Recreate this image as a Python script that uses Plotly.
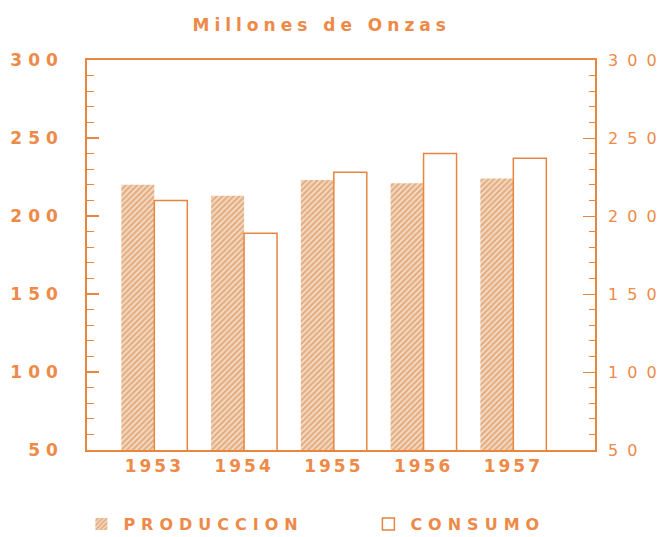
import plotly.graph_objects as go

years = [1953, 1954, 1955, 1956, 1957]
year_labels = ["1953", "1954", "1955", "1956", "1957"]
produccion = [220, 213, 223, 221, 224]
consumo = [210, 189, 228, 240, 237]
y_ticks = [50, 100, 150, 200, 250, 300]
left_tick_text = ["50", "100", "150", "200", "250", "300"]
right_tick_text = ["5 0", "1 0 0", "1 5 0", "2 0 0", "2 5 0", "3 0 0"]

ORANGE = "#E8853E"
TEXT = "#EE8A48"
FONT = "DejaVu Sans"

fig = go.Figure()
fig.add_trace(go.Bar(
    x=years, y=produccion, name="PRODUCCION",
    marker=dict(color="#EFC8A6",
                pattern=dict(shape="/", size=4, solidity=0.6,
                             fgcolor="#D27C38", bgcolor="#F6E0CC"),
                line=dict(width=0)),
))
fig.add_trace(go.Bar(
    x=years, y=consumo, name="CONSUMO",
    marker=dict(color="white", line=dict(color=ORANGE, width=1.5)),
))
# invisible trace for right axis
fig.add_trace(go.Scatter(x=[years[0]], y=[y_ticks[0]], yaxis="y2",
                         mode="markers", marker=dict(opacity=0),
                         showlegend=False, hoverinfo="skip"))

fig.update_layout(
    width=666, height=537,
    margin=dict(l=87, r=71, t=60, b=87, autoexpand=False),
    paper_bgcolor="white", plot_bgcolor="white",
    barmode="group", bargap=0.265, bargroupgap=0,
    title=dict(text="Millones de Onzas", x=0.483, xanchor="center",
               y=0.953, yanchor="middle",
               font=dict(family=FONT, size=17, color=TEXT, weight="bold")),
    xaxis=dict(range=[1952.25, 1957.91], tickvals=years, ticktext=year_labels,
               showline=True, linecolor=ORANGE, linewidth=1.5, mirror=True,
               ticks="", showgrid=False, zeroline=False, automargin=False,
               tickfont=dict(family=FONT, size=17, color=TEXT, weight="bold")),
    yaxis=dict(range=[50, 300], tickvals=y_ticks, ticktext=left_tick_text,
               showline=True, linecolor=ORANGE, linewidth=1.5,
               ticks="inside", ticklen=12, tickwidth=1.5, tickcolor=ORANGE,
               minor=dict(dtick=10, ticks="inside", ticklen=7, tickwidth=1.2,
                          tickcolor=ORANGE, showgrid=False),
               showgrid=False, zeroline=False, ticklabelstandoff=18,
               automargin=False,
               tickfont=dict(family=FONT, size=17, color=TEXT, weight="bold")),
    yaxis2=dict(range=[50, 300], tickvals=y_ticks, ticktext=right_tick_text,
                overlaying="y", side="right",
                showline=True, linecolor=ORANGE, linewidth=1.5,
                ticks="inside", ticklen=12, tickwidth=1.2, tickcolor=ORANGE,
                minor=dict(dtick=10, ticks="inside", ticklen=6, tickwidth=1,
                           tickcolor=ORANGE, showgrid=False),
                showgrid=False, zeroline=False, ticklabelstandoff=8,
                automargin=False,
                tickfont=dict(family=FONT, size=16, color=TEXT)),
    legend=dict(orientation="h", x=-0.015, xanchor="left", y=-0.19,
                yanchor="middle", entrywidth=238, entrywidthmode="pixels",
                itemwidth=34,
                font=dict(family=FONT, size=16, color=TEXT, weight="bold")),
    showlegend=True,
)

post = """
document.body.style.margin='0';
document.querySelectorAll('.gtitle').forEach(function(e){e.style.letterSpacing='5px';});
document.querySelectorAll('.ytick text').forEach(function(e){e.style.letterSpacing='6px';});
document.querySelectorAll('.y2tick text').forEach(function(e){e.style.letterSpacing='2px';});
document.querySelectorAll('.xtick text').forEach(function(e){e.style.letterSpacing='3px';});
document.querySelectorAll('.legendtext').forEach(function(e){e.style.letterSpacing='6px';});
"""
fig.write_html("out.html", post_script=post, config={"displayModeBar": False})
